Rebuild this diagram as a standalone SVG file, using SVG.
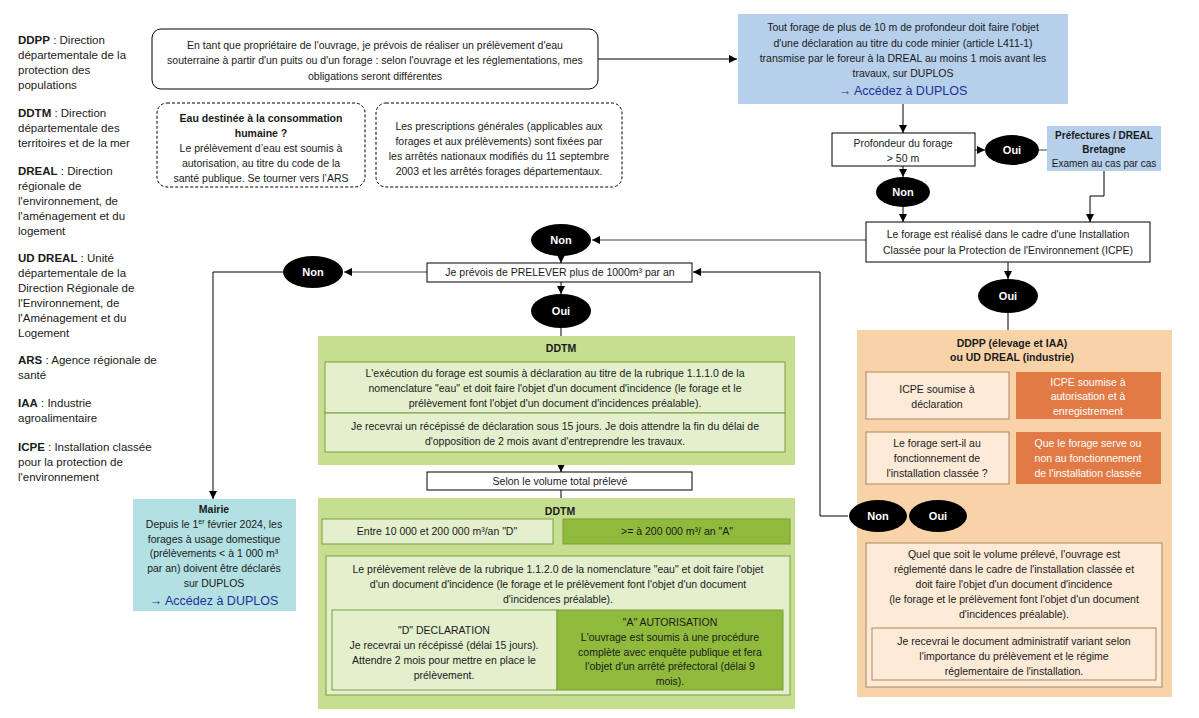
<svg xmlns="http://www.w3.org/2000/svg" width="1199" height="718" viewBox="0 0 1199 718">
<defs>
<marker id="ah" markerUnits="userSpaceOnUse" markerWidth="8" markerHeight="8" viewBox="0 0 8 8" refX="8" refY="4" orient="auto"><path d="M0,0 L8,4 L0,8 z" fill="#000"/></marker>
</defs>
<style>
text{font-family:"Liberation Sans",Arial,sans-serif;font-size:10.5px;fill:#1a1a1a}
.c{text-anchor:middle}
.b{font-weight:bold}
.lg{font-size:11.5px}
.sm{font-size:10px}
.et{fill:#fff;font-weight:bold;font-size:11px;text-anchor:middle}
.lk{fill:#1f2f98;font-size:12.5px}
.wt{fill:#fff}
.ln{stroke:#000;stroke-width:1;fill:none}
.gr{stroke:#808080;stroke-width:1.5;fill:none}
.box{fill:#fff;stroke:#000;stroke-width:1}
.blue{fill:#b6cfea}
.teal{fill:#b3e0e3}
.gout{fill:#c6de8f}
.gin{fill:#e4efcd;stroke:#7e9b3e;stroke-width:1}
.gdk{fill:#8fba3c;stroke:#7e9b3e;stroke-width:1}
.oout{fill:#f9d3a8}
.oin{fill:#fdead7;stroke:#a98763;stroke-width:1}
.odk{fill:#e27a45}
</style>

<g id="legend">
<text class="lg" x="18" y="44"><tspan class="b">DDPP</tspan> : Direction</text>
<text class="lg" x="18" y="59">départementale de la</text>
<text class="lg" x="18" y="74">protection des</text>
<text class="lg" x="18" y="89">populations</text>
<text class="lg" x="18" y="117"><tspan class="b">DDTM</tspan> :  Direction</text>
<text class="lg" x="18" y="132">départementale des</text>
<text class="lg" x="18" y="147">territoires et de la mer</text>
<text class="lg" x="18" y="175"><tspan class="b">DREAL</tspan> : Direction</text>
<text class="lg" x="18" y="190">régionale de</text>
<text class="lg" x="18" y="205">l'environnement, de</text>
<text class="lg" x="18" y="220">l'aménagement et du</text>
<text class="lg" x="18" y="235">logement</text>
<text class="lg" x="18" y="262"><tspan class="b">UD DREAL</tspan> : Unité</text>
<text class="lg" x="18" y="277">départementale de la</text>
<text class="lg" x="18" y="292">Direction Régionale de</text>
<text class="lg" x="18" y="307">l'Environnement, de</text>
<text class="lg" x="18" y="322">l'Aménagement et du</text>
<text class="lg" x="18" y="337">Logement</text>
<text class="lg" x="18" y="364"><tspan class="b">ARS</tspan> : Agence régionale de</text>
<text class="lg" x="18" y="379">santé</text>
<text class="lg" x="18" y="407"><tspan class="b">IAA</tspan> : Industrie</text>
<text class="lg" x="18" y="422">agroalimentaire</text>
<text class="lg" x="18" y="451"><tspan class="b">ICPE</tspan> : Installation classée</text>
<text class="lg" x="18" y="466">pour la protection de</text>
<text class="lg" x="18" y="481">l'environnement</text>
</g>

<g id="connectors">
<line class="ln" x1="598" y1="59" x2="737" y2="59" marker-end="url(#ah)"/>
<line class="ln" x1="903" y1="104" x2="903" y2="133" marker-end="url(#ah)"/>
<line class="ln" x1="975" y1="150" x2="985" y2="150" marker-end="url(#ah)"/>
<line class="gr" x1="1039" y1="150" x2="1047" y2="150"/>
<line class="ln" x1="903" y1="166" x2="903" y2="177" marker-end="url(#ah)"/>
<line class="ln" x1="903" y1="207" x2="903" y2="222" marker-end="url(#ah)"/>
<polyline class="ln" points="1104,171 1104,196 1090,196 1090,222" marker-end="url(#ah)"/>
<line class="gr" x1="866" y1="240" x2="592" y2="240" marker-end="url(#ah)"/>
<line class="ln" x1="561" y1="256" x2="561" y2="263" marker-end="url(#ah)"/>
<line class="gr" x1="427" y1="272" x2="344" y2="272" marker-end="url(#ah)"/>
<polyline class="ln" points="283,272 213,272 213,499" marker-end="url(#ah)"/>
<line class="ln" x1="561" y1="281" x2="561" y2="294" marker-end="url(#ah)"/>
<line class="ln" x1="561" y1="328" x2="561" y2="362" marker-end="url(#ah)"/>
<line class="ln" x1="561" y1="452" x2="561" y2="472" marker-end="url(#ah)"/>
<line class="ln" x1="561" y1="490" x2="561" y2="503"/>
<polyline class="ln" points="434,519 434,503 677,503 677,519"/>
<line class="ln" x1="434" y1="544" x2="434" y2="556" marker-end="url(#ah)"/>
<line class="ln" x1="677" y1="544" x2="677" y2="556" marker-end="url(#ah)"/>
<line class="ln" x1="1008" y1="262" x2="1008" y2="279" marker-end="url(#ah)"/>
<line class="ln" x1="1008" y1="313" x2="1008" y2="336"/>
<polyline class="ln" points="937,371 937,336 1088,336 1088,371"/>
<line class="ln" x1="937" y1="371" x2="937" y2="372" marker-end="url(#ah)"/>
<line class="ln" x1="1088" y1="371" x2="1088" y2="372" marker-end="url(#ah)"/>
<line class="ln" x1="937" y1="419" x2="937" y2="432"/>
<line class="ln" x1="1088" y1="419" x2="1088" y2="432"/>
<line class="ln" x1="878" y1="484" x2="878" y2="500" marker-end="url(#ah)"/>
<line class="ln" x1="938" y1="484" x2="938" y2="500" marker-end="url(#ah)"/>
<line class="ln" x1="938" y1="532" x2="938" y2="543" marker-end="url(#ah)"/>
<line class="ln" x1="1088" y1="484" x2="1088" y2="543" marker-end="url(#ah)"/>
<polyline class="ln" points="848,516 820,516 820,272 693,272" marker-end="url(#ah)"/>
</g>

<g id="intro">
<rect x="152" y="29" width="446" height="60" rx="9" fill="#fff" stroke="#000"/>
<text class="c" x="375" y="49">En tant que propriétaire de l'ouvrage, je prévois de réaliser un prélèvement d'eau</text>
<text class="c" x="375" y="64">souterraine à partir d'un puits ou d'un forage : selon l'ouvrage et les réglementations, mes</text>
<text class="c" x="375" y="80">obligations seront différentes</text>
</g>

<g id="note-ars">
<rect x="157" y="103" width="208" height="84" rx="10" fill="#fff" stroke="#000" stroke-dasharray="3,2"/>
<text class="c b" x="261" y="122">Eau destinée à la consommation</text>
<text class="c b" x="261" y="137">humaine ?</text>
<text class="c" x="261" y="152">Le prélèvement d’eau est soumis à</text>
<text class="c" x="261" y="167">autorisation, au titre du code de la</text>
<text class="c" x="261" y="182">santé publique. Se tourner vers l’ARS</text>
</g>

<g id="note-prescriptions">
<rect x="376" y="103" width="246" height="84" rx="10" fill="#fff" stroke="#000" stroke-dasharray="3,2"/>
<text class="c" x="499" y="130">Les prescriptions générales (applicables aux</text>
<text class="c" x="499" y="145">forages et aux prélèvements) sont fixées par</text>
<text class="c" x="499" y="160">les arrêtés nationaux modifiés du 11 septembre</text>
<text class="c" x="499" y="175">2003 et les arrêtés forages départementaux.</text>
</g>

<g id="code-minier">
<rect class="blue" x="738" y="14" width="330" height="90"/>
<text class="c" x="903" y="31">Tout forage de plus de 10 m de profondeur doit faire l'objet</text>
<text class="c" x="903" y="47">d'une déclaration au titre du code minier (article L411-1)</text>
<text class="c" x="903" y="62">transmise par le foreur à la DREAL au moins 1 mois avant les</text>
<text class="c" x="903" y="77">travaux, sur DUPLOS</text>
<text class="c lk" x="903" y="95">→ Accédez à DUPLOS</text>
</g>

<g id="profondeur">
<rect class="box" x="832" y="133" width="143" height="33"/>
<text class="c" x="903" y="147">Profondeur du forage</text>
<text class="c" x="903" y="162">&gt; 50 m</text>
</g>

<g id="oui-profondeur">
<ellipse cx="1012" cy="150" rx="27" ry="15"/>
<text class="et" x="1012" y="154">Oui</text>
</g>

<g id="prefectures">
<rect class="blue" x="1047" y="126" width="114" height="45"/>
<text class="c b sm" x="1104" y="139">Préfectures / DREAL</text>
<text class="c b sm" x="1104" y="153">Bretagne</text>
<text class="c sm" x="1104" y="167">Examen au cas par cas</text>
</g>

<g id="non-profondeur">
<ellipse cx="903" cy="192" rx="27" ry="15"/>
<text class="et" x="903" y="196">Non</text>
</g>

<g id="icpe">
<rect class="box" x="866" y="222" width="284" height="40"/>
<text class="c" x="1008" y="238">Le forage est réalisé dans le cadre d'une Installation</text>
<text class="c" x="1008" y="254">Classée pour la Protection de l'Environnement (ICPE)</text>
</g>

<g id="non-icpe">
<ellipse cx="561" cy="240" rx="30" ry="16"/>
<text class="et" x="561" y="244">Non</text>
</g>

<g id="prelever">
<rect class="box" x="427" y="263" width="265" height="19"/>
<text class="c" x="560" y="276">Je prévois de PRELEVER plus de 1000m³ par an</text>
</g>

<g id="non-prelever">
<ellipse cx="313" cy="272" rx="30" ry="16"/>
<text class="et" x="313" y="276">Non</text>
</g>

<g id="oui-prelever">
<ellipse cx="561" cy="311" rx="30" ry="17"/>
<text class="et" x="561" y="315">Oui</text>
</g>

<g id="mairie">
<rect class="teal" x="133" y="499" width="163" height="112"/>
<text class="c b" x="214" y="513">Mairie</text>
<text class="c" x="214" y="528">Depuis le 1<tspan font-size="7" dy="-4">er</tspan><tspan dy="4"> février 2024, les</tspan></text>
<text class="c" x="214" y="543">forages à usage domestique</text>
<text class="c" x="214" y="557">(prélèvements &lt; à 1 000 m³</text>
<text class="c" x="214" y="572">par an) doivent être déclarés</text>
<text class="c" x="214" y="587">sur DUPLOS</text>
<text class="c lk" x="214" y="605">→ Accédez à DUPLOS</text>
</g>

<g id="ddtm-forage">
<rect class="gout" x="318" y="336" width="477" height="129"/>
<text class="c b" x="561" y="352">DDTM</text>
<rect class="gin" x="325" y="362" width="460" height="51"/>
<text class="c" x="555" y="377">L'exécution du forage est soumis à déclaration au titre de la rubrique 1.1.1.0 de la</text>
<text class="c" x="555" y="392">nomenclature "eau" et doit faire l'objet d'un document d'incidence (le forage et le</text>
<text class="c" x="555" y="407">prélèvement font l'objet d'un document d'incidences préalable).</text>
<rect class="gin" x="325" y="413" width="460" height="39"/>
<text class="c" x="555" y="430">Je recevrai un récépissé de déclaration sous 15 jours. Je dois attendre la fin du délai de</text>
<text class="c" x="555" y="445">d'opposition de 2 mois avant d'entreprendre les travaux.</text>
</g>

<g id="selon-volume">
<rect class="box" x="427" y="472" width="265" height="18"/>
<text class="c" x="560" y="485">Selon le volume total prélevé</text>
</g>

<g id="ddtm-prelevement">
<rect class="gout" x="318" y="498" width="477" height="211"/>
<text class="c b" x="560" y="515">DDTM</text>
<rect class="gin" x="322" y="519" width="231" height="25"/>
<text class="c" x="437" y="535">Entre 10 000 et 200 000 m³/an "D"</text>
<rect class="gdk" x="563" y="519" width="227" height="25"/>
<text class="c" x="677" y="535">&gt;= à 200 000 m³/ an "A"</text>
<rect class="gin" x="326" y="556" width="464" height="139"/>
<text class="c" x="558" y="573">Le prélèvement relève de la rubrique 1.1.2.0 de la nomenclature "eau" et doit faire l'objet</text>
<text class="c" x="558" y="588">d'un document d'incidence (le forage et le prélèvement font l'objet d'un document</text>
<text class="c" x="558" y="603">d'incidences préalable).</text>
<rect class="gin" x="332" y="610" width="225" height="80"/>
<text class="c" x="444" y="634">"D" DECLARATION</text>
<text class="c" x="444" y="649">Je recevrai un récépissé (délai 15 jours).</text>
<text class="c" x="444" y="664">Attendre 2 mois pour mettre en place le</text>
<text class="c" x="444" y="679">prélèvement.</text>
<rect class="gdk" x="557" y="610" width="226" height="80"/>
<text class="c" x="670" y="626">"A" AUTORISATION</text>
<text class="c" x="670" y="641">L'ouvrage est soumis à une procédure</text>
<text class="c" x="670" y="656">complète avec enquête publique et fera</text>
<text class="c" x="670" y="670">l'objet d'un arrêté préfectoral (délai 9</text>
<text class="c" x="670" y="685">mois).</text>
</g>

<g id="oui-icpe">
<ellipse cx="1008" cy="296" rx="30" ry="17"/>
<text class="et" x="1008" y="300">Oui</text>
</g>

<g id="ddpp">
<rect class="oout" x="857" y="330" width="315" height="367"/>
<text class="c b" x="1012" y="347">DDPP (élevage et IAA)</text>
<text class="c b" x="1012" y="361">ou UD DREAL (industrie)</text>
</g>

<g id="icpe-declaration">
<rect class="oin" x="866" y="372" width="143" height="47"/>
<text class="c" x="937" y="393">ICPE soumise à</text>
<text class="c" x="937" y="408">déclaration</text>
</g>

<g id="icpe-autorisation">
<rect class="odk" x="1016" y="372" width="145" height="47"/>
<text class="c wt" x="1088" y="386">ICPE soumise à</text>
<text class="c wt" x="1088" y="400">autorisation et à</text>
<text class="c wt" x="1088" y="415">enregistrement</text>
</g>

<g id="forage-sert">
<rect class="oin" x="866" y="432" width="143" height="52"/>
<text class="c" x="937" y="447">Le forage sert-il au</text>
<text class="c" x="937" y="462">fonctionnement de</text>
<text class="c" x="937" y="477">l'installation classée ?</text>
</g>

<g id="forage-serve">
<rect class="odk" x="1016" y="432" width="145" height="52"/>
<text class="c wt" x="1088" y="447">Que le forage serve ou</text>
<text class="c wt" x="1088" y="462">non au fonctionnement</text>
<text class="c wt" x="1088" y="477">de l'installation classée</text>
</g>

<g id="non-icpe-decl">
<ellipse cx="878" cy="516" rx="29" ry="16"/>
<text class="et" x="878" y="520">Non</text>
</g>

<g id="oui-icpe-decl">
<ellipse cx="938" cy="516" rx="29" ry="16"/>
<text class="et" x="938" y="520">Oui</text>
</g>

<g id="icpe-reglemente">
<rect class="oin" x="866" y="543" width="296" height="144"/>
<text class="c" x="1014" y="558">Quel que soit le volume prélevé, l'ouvrage est</text>
<text class="c" x="1014" y="573">réglementé dans le cadre de l'installation classée et</text>
<text class="c" x="1014" y="588">doit faire l'objet d'un document d'incidence</text>
<text class="c" x="1014" y="603">(le forage et le prélèvement font l'objet d'un document</text>
<text class="c" x="1014" y="618">d'incidences préalable).</text>
<rect class="oin" x="872" y="628" width="284" height="52"/>
<text class="c" x="1014" y="645">Je recevrai le document administratif variant selon</text>
<text class="c" x="1014" y="660">l'importance du prélèvement et le régime</text>
<text class="c" x="1014" y="675">réglementaire de l'installation.</text>
</g>
</svg>
